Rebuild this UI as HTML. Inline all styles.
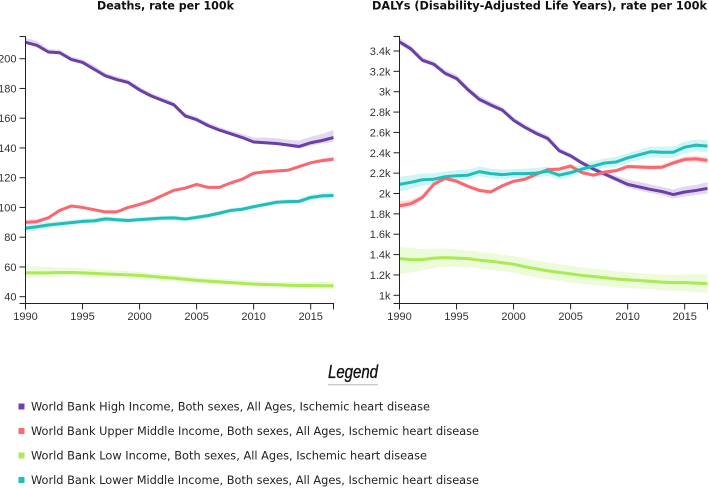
<!DOCTYPE html>
<html>
<head>
<meta charset="utf-8">
<style>
html,body{margin:0;padding:0;background:#fff;}
svg{display:block;}
text{font-family:"Liberation Sans",sans-serif;}
.tick{font-size:11px;fill:#333;}
.title{font-family:"DejaVu Sans",sans-serif;font-weight:bold;font-size:11.2px;fill:#111;text-anchor:middle;}
.leg{font-family:"DejaVu Sans",sans-serif;font-size:11.35px;fill:#222;}
</style>
</head>
<body>
<svg id="chart" width="709" height="488" viewBox="0 0 709 488" xmlns="http://www.w3.org/2000/svg">
<text class="title" x="165.5" y="9.5" textLength="137" lengthAdjust="spacingAndGlyphs">Deaths, rate per 100k</text>
<text class="title" x="539.5" y="9.5" textLength="335" lengthAdjust="spacingAndGlyphs">DALYs (Disability-Adjusted Life Years), rate per 100k</text>
<text x="353" y="378" text-anchor="middle" font-style="italic" font-size="18" fill="#111" stroke="#111" stroke-width="0.35" textLength="50" lengthAdjust="spacingAndGlyphs">Legend</text>
<rect x="328" y="384" width="50" height="1.4" fill="#ccc"></rect>
<g>
<rect x="18.5" y="403.5" width="6" height="6" fill="#6f42a8"></rect>
<text class="leg" x="31" y="410.5" textLength="399" lengthAdjust="spacingAndGlyphs">World Bank High Income, Both sexes, All Ages, Ischemic heart disease</text>
<rect x="18.5" y="428" width="6" height="6" fill="#f96a70"></rect>
<text class="leg" x="31" y="435" textLength="448" lengthAdjust="spacingAndGlyphs">World Bank Upper Middle Income, Both sexes, All Ages, Ischemic heart disease</text>
<rect x="18.5" y="452.5" width="6" height="6" fill="#aeea5a"></rect>
<text class="leg" x="31" y="459.5" textLength="396" lengthAdjust="spacingAndGlyphs">World Bank Low Income, Both sexes, All Ages, Ischemic heart disease</text>
<rect x="18.5" y="477" width="6" height="6" fill="#22bdbd"></rect>
<text class="leg" x="31" y="484" textLength="448" lengthAdjust="spacingAndGlyphs">World Bank Lower Middle Income, Both sexes, All Ages, Ischemic heart disease</text>
</g>
<g id="deaths"></g>
<g id="dalys"></g>
</svg>
<script>
const years = [1990,1991,1992,1993,1994,1995,1996,1997,1998,1999,2000,2001,2002,2003,2004,2005,2006,2007,2008,2009,2010,2011,2012,2013,2014,2015,2016,2017];
const xTicks = [1990,1995,2000,2005,2010,2015];
const deathsTicks = [40,60,80,100,120,140,160,180,200];
const dalysTicks = [1000,1200,1400,1600,1800,2000,2200,2400,2600,2800,3000,3200,3400];

const deathsHigh = [211,209,204.5,204,199.5,197.5,193,188.5,186,184,179,175,172,169,161.5,159,155,152,149.5,147,144,143.5,143,142,141,143.5,145,147];
const deathsHighLo = [210,208,203.5,203,198.5,196.5,192,187.5,185,183,178,174,171,168,160.5,158,154,151,148.5,146,143,142.5,142,141,139.5,141.5,143,144];
const deathsHighHi = [214,212,206.5,206,201.5,199.5,195.5,190.5,188,186,181,177,174,171,163.5,161,157,154,151.5,149.5,147,147,146.5,145.5,145,147.5,149.5,152];
const deathsUpper = [90,90.5,93,98,101,100,98.5,97,97,100,102,104.5,108,111.5,113,115.5,113.5,113.5,116.5,119,123,124,124.5,125,127.5,130,131.5,132.5];
const deathsUpperLo = [88.5,89,91.8,97,100,99,97.5,96,96,99,101,103.5,107,110.5,112,114.5,112.5,112.5,115.5,118,122,123,123.5,124,126.5,129,130.3,131];
const deathsUpperHi = [92,92,94.2,99,102,101,99.5,98,98,101,103,105.5,109,112.5,114,116.5,114.5,114.5,117.5,120,124,125,125.5,126,128.5,131,133,134];
const deathsLow = [56,56,56,56.3,56.3,56,55.7,55.3,55,54.7,54.3,53.7,53,52.5,51.7,51,50.5,50,49.5,49,48.5,48.2,48,47.7,47.5,47.5,47.4,47.3];
const deathsLowLo = [52.5,53,53.3,53.6,53.8,53.6,53.4,53,52.8,52.5,52.2,51.6,51,50.5,49.8,49.2,48.7,48.2,47.7,47.3,46.8,46.5,46.2,45.9,45.6,45.4,45.2,45];
const deathsLowHi = [60.5,60.3,60,59.8,59.6,59.2,58.6,58.1,57.6,57.2,56.7,56,55.3,54.7,54,53.2,52.7,52.2,51.7,51.2,50.7,50.4,50.2,50,49.9,50,50,50];
const deathsLowerMid = [86,87,88.2,89,89.8,90.6,91,92.3,91.7,91.2,91.8,92.3,92.8,93,92.2,93.3,94.5,96.2,98,98.8,100.5,102,103.5,103.9,104.1,106.7,107.8,108];
const deathsLowerMidLo = [83.5,84.7,86,87,87.9,88.8,89.2,90.6,90,89.6,90.2,90.8,91.3,91.5,90.7,91.8,93,94.7,96.5,97.3,99,100.5,102,102.4,102.6,105,106,106];
const deathsLowerMidHi = [88.5,89.3,90.4,91,91.7,92.4,92.8,94,93.4,92.9,93.4,93.9,94.3,94.5,93.7,94.8,96,97.7,99.5,100.3,102,103.5,105,105.5,105.7,108.6,109.8,110.2];

const dalysHigh = [3490,3420,3310,3270,3180,3130,3020,2925,2870,2820,2720,2650,2590,2540,2420,2370,2300,2240,2190,2140,2090,2065,2040,2020,1990,2015,2030,2050];
const dalysHighLo = [3465,3395,3290,3250,3160,3105,2995,2900,2845,2800,2700,2630,2570,2520,2400,2350,2280,2220,2170,2115,2060,2030,2005,1985,1950,1970,1985,2000];
const dalysHighHi = [3530,3450,3340,3300,3215,3165,3050,2960,2905,2850,2750,2680,2620,2570,2450,2395,2325,2265,2215,2175,2135,2115,2090,2065,2040,2070,2085,2110];
const dalysUpper = [1880,1900,1960,2090,2150,2120,2070,2030,2015,2075,2120,2140,2190,2235,2240,2270,2205,2180,2210,2225,2265,2260,2255,2258,2300,2335,2340,2325];
const dalysUpperLo = [1850,1870,1935,2070,2130,2100,2050,2012,1998,2058,2102,2122,2172,2218,2222,2250,2185,2160,2190,2205,2245,2240,2235,2238,2280,2312,2312,2295];
const dalysUpperHi = [1925,1935,1990,2110,2170,2140,2090,2050,2032,2092,2138,2158,2208,2252,2258,2290,2225,2200,2230,2245,2285,2282,2278,2282,2325,2362,2370,2355];
const dalysLow = [1360,1350,1350,1365,1370,1365,1360,1345,1335,1320,1305,1280,1260,1240,1225,1210,1195,1185,1172,1160,1152,1145,1138,1130,1125,1125,1120,1115];
const dalysLowLo = [1210,1225,1245,1265,1280,1280,1275,1262,1250,1235,1220,1197,1175,1155,1140,1125,1110,1100,1090,1078,1072,1065,1058,1050,1045,1040,1033,1025];
const dalysLowHi = [1480,1465,1455,1460,1460,1450,1440,1425,1415,1400,1385,1365,1340,1322,1305,1290,1275,1262,1250,1235,1225,1218,1212,1205,1200,1205,1205,1205];
const dalysLowerMid = [2090,2110,2135,2140,2165,2175,2180,2215,2195,2185,2195,2195,2200,2220,2180,2205,2240,2270,2300,2310,2350,2380,2410,2405,2405,2455,2475,2465];
const dalysLowerMidLo = [2020,2045,2075,2090,2120,2130,2135,2170,2150,2140,2150,2150,2155,2175,2140,2165,2195,2225,2250,2265,2300,2330,2355,2350,2350,2395,2415,2405];
const dalysLowerMidHi = [2165,2180,2195,2200,2215,2230,2235,2265,2245,2235,2240,2245,2250,2265,2225,2250,2285,2320,2345,2360,2395,2430,2460,2460,2460,2510,2530,2525];

const NS = 'http://www.w3.org/2000/svg';
function make(tag, attrs, parent) {
  const el = document.createElementNS(NS, tag);
  for (const k in attrs) el.setAttribute(k, attrs[k]);
  parent.appendChild(el);
  return el;
}
function linearScale(d0, d1, r0, r1) {
  return v => r0 + (v - d0) / (d1 - d0) * (r1 - r0);
}
function linePath(vals, x, y) {
  return vals.map((v, i) => (i ? 'L' : 'M') + x(years[i]).toFixed(2) + ' ' + y(v).toFixed(2)).join('');
}
function bandPath(lo, hi, x, y) {
  const top = hi.map((v, i) => (i ? 'L' : 'M') + x(years[i]).toFixed(2) + ' ' + y(v).toFixed(2)).join('');
  let bottom = '';
  for (let i = lo.length - 1; i >= 0; i--) bottom += 'L' + x(years[i]).toFixed(2) + ' ' + y(lo[i]).toFixed(2);
  return top + bottom + 'Z';
}
function drawChart(root, cfg) {
  const x = linearScale(1990, 2017, cfg.x0, cfg.x1);
  const y = linearScale(cfg.v0, cfg.v1, cfg.y0, cfg.y1);
  cfg.series.forEach(s => {
    const band = make('path', {d: bandPath(s.lo, s.hi, x, y), fill: s.band, 'fill-opacity': s.op}, root);
    
    
  });
  cfg.series.forEach(s => {
    const line = make('path', {d: linePath(s.vals, x, y), fill: 'none', stroke: s.color, 'stroke-width': 3, 'stroke-linejoin': 'round'}, root);
    
    
  });
  const yAxis = make('path', {d: 'M' + (cfg.x0 - 6) + ' ' + cfg.top + 'H' + cfg.x0 + 'V' + cfg.bottom + 'H' + (cfg.x0 - 6), fill: 'none', stroke: '#222', 'stroke-width': 1}, root);
  
  
  const xAxis = make('path', {d: 'M' + cfg.x0 + ' ' + (cfg.bottom + 6) + 'V' + cfg.bottom + 'H' + cfg.x1 + 'V' + (cfg.bottom + 6), fill: 'none', stroke: '#222', 'stroke-width': 1}, root);
  
  
  cfg.ticks.forEach(t => {
    const yy = y(t);
    const mark = make('line', {x1: cfg.x0 - 6, x2: cfg.x0, y1: yy, y2: yy, stroke: '#222', 'stroke-width': 1}, root);
    
    
    const lab = make('text', {class: 'tick', x: cfg.x0 - 9, y: yy + 4, 'text-anchor': 'end'}, root);
    
    
    lab.textContent = cfg.fmt(t);
  });
  xTicks.forEach(t => {
    const xx = x(t);
    const mark = make('line', {x1: xx, x2: xx, y1: cfg.bottom, y2: cfg.bottom + 6, stroke: '#222', 'stroke-width': 1}, root);
    
    
    const lab = make('text', {class: 'tick', x: xx, y: cfg.bottom + 16.5, 'text-anchor': 'middle'}, root);
    
    
    lab.textContent = t;
  });
}
const PURPLE = '#6a3fa6', RED = '#f8686e', GREEN = '#a9ea55', TEAL = '#22bdb9';
drawChart(document.getElementById('deaths'), {
  x0: 25.5, x1: 333.5, v0: 40, v1: 200, y0: 296.7, y1: 58.7, top: 36.5, bottom: 303.5,
  ticks: deathsTicks, fmt: v => String(v),
  series: [
    {name: 'deaths-high-income', vals: deathsHigh, lo: deathsHighLo, hi: deathsHighHi, color: PURPLE, band: '#8e63c6', op: 0.25},
    {name: 'deaths-upper-middle-income', vals: deathsUpper, lo: deathsUpperLo, hi: deathsUpperHi, color: RED, band: '#f8686e', op: 0.25},
    {name: 'deaths-low-income', vals: deathsLow, lo: deathsLowLo, hi: deathsLowHi, color: GREEN, band: '#b5ee66', op: 0.25},
    {name: 'deaths-lower-middle-income', vals: deathsLowerMid, lo: deathsLowerMidLo, hi: deathsLowerMidHi, color: TEAL, band: '#3fd6d2', op: 0.25}
  ]
});
drawChart(document.getElementById('dalys'), {
  x0: 399.5, x1: 707.5, v0: 1000, v1: 3400, y0: 295.3, y1: 51, top: 36.5, bottom: 303.5,
  ticks: dalysTicks, fmt: v => (v / 1000) + 'k',
  series: [
    {name: 'dalys-high-income', vals: dalysHigh, lo: dalysHighLo, hi: dalysHighHi, color: PURPLE, band: '#8e63c6', op: 0.25},
    {name: 'dalys-upper-middle-income', vals: dalysUpper, lo: dalysUpperLo, hi: dalysUpperHi, color: RED, band: '#f8686e', op: 0.25},
    {name: 'dalys-low-income', vals: dalysLow, lo: dalysLowLo, hi: dalysLowHi, color: GREEN, band: '#b5ee66', op: 0.25},
    {name: 'dalys-lower-middle-income', vals: dalysLowerMid, lo: dalysLowerMidLo, hi: dalysLowerMidHi, color: TEAL, band: '#3fd6d2', op: 0.25}
  ]
});
</script>
</body>
</html>
